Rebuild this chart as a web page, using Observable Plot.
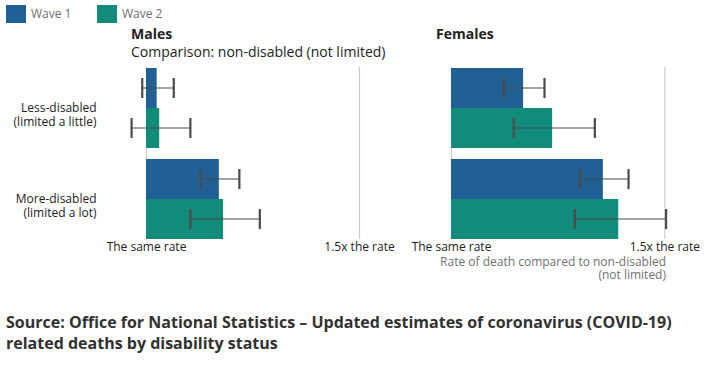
<!DOCTYPE html>
<html>
<head>
<meta charset="utf-8">
<script src="https://cdn.jsdelivr.net/npm/d3@7"></script>
<script src="https://cdn.jsdelivr.net/npm/@observablehq/plot@0.6"></script>
<style>
  html, body { margin: 0; padding: 0; background: #fff; }
  body { font-family: "Open Sans", sans-serif; }
  #wrap { position: relative; width: 716px; height: 365px; overflow: hidden; }
  .abs { position: absolute; white-space: nowrap; }
  .sw { position: absolute; width: 20px; height: 18px; }
  .leg { position: absolute; font-size: 12px; color: #707071; line-height: 18px; }
  .title { font-size: 14px; font-weight: 700; color: #222; line-height: normal; }
  .sub { font-size: 14px; color: #222; line-height: normal; }
  .axt { font-size: 12px; color: #707071; text-align: right; line-height: 13px; }
  .src { font-size: 16px; font-weight: 700; color: #323132; line-height: 21px; white-space: normal; width: 710px; }
</style>
</head>
<body>
<div id="wrap"></div>
<script>
// ---- data ----
const sexes = ["Males", "Females"];
const groups = ["Less-disabled\n(limited a little)", "More-disabled\n(limited a lot)"];
const waves = ["Wave 1", "Wave 2"];
const waveColors = ["#206095", "#118c7b"];
// order: Less W1, Less W2, More W1, More W2
const maleRate  = [1.025, 1.031, 1.171, 1.181];
const maleLower = [0.990, 0.965, 1.127, 1.103];
const maleUpper = [1.064, 1.103, 1.218, 1.266];
const femaleRate  = [1.169, 1.237, 1.356, 1.392];
const femaleLower = [1.123, 1.146, 1.302, 1.289];
const femaleUpper = [1.218, 1.336, 1.415, 1.503];
const tickValues = [1, 1.5];
const tickLabels = ["The same rate", "1.5x the rate"];
const subtitle = "Comparison: non-disabled (not limited)";
const axisTitle = "Rate of death compared to non-disabled\n(not limited)";
const source = "Source: Office for National Statistics – Updated estimates of coronavirus (COVID-19) related deaths by disability status";

const wrap = document.getElementById("wrap");

function rowsOf(rate, lo, hi) {
  return rate.map((r, i) => ({group: groups[Math.floor(i / 2)], wave: waves[i % 2], rate: r, lo: lo[i], hi: hi[i]}));
}

function panel(rows, opts) {
  const grid0 = tickValues.map(v => ({group: groups[0], v}));
  const grid1 = tickValues.map(v => ({group: groups[1], v}));
  const marks = [
    Plot.ruleX(grid0, {x: "v", fy: "group", stroke: "#cccccc", strokeWidth: 1.2, insetBottom: -10}),
    Plot.ruleX(grid1, {x: "v", fy: "group", stroke: "#cccccc", strokeWidth: 1.2}),
    Plot.barX(rows, {x1: 1, x2: "rate", y: "wave", fy: "group", fill: "wave"}),
    Plot.barX(rows, {x1: "lo", x2: "hi", y: "wave", fy: "group", fill: "#4a4a4a", insetTop: 19.5, insetBottom: 19.5}),
    Plot.tickX(rows, {x: "lo", y: "wave", fy: "group", stroke: "#4a4a4a", strokeWidth: 2.2, insetTop: 10, insetBottom: 10}),
    Plot.tickX(rows, {x: "hi", y: "wave", fy: "group", stroke: "#4a4a4a", strokeWidth: 2.2, insetTop: 10, insetBottom: 10}),
    Plot.axisX({ticks: tickValues, tickFormat: d => tickLabels[tickValues.indexOf(d)], tickSize: 0, tickPadding: 3, label: null, fill: "#222", fontSize: 12})
  ];
  if (opts.yLabels) {
    marks.push(Plot.axisFy({anchor: "left", tickSize: 0, tickPadding: 8, label: null, dy: 7, lineHeight: 14 / 12, fill: "#222", fontSize: 12}));
  }
  return Plot.plot({
    width: opts.width,
    height: 265,
    marginTop: 67,
    marginBottom: 25,
    marginLeft: opts.marginLeft,
    marginRight: 0,
    x: {domain: [1, 1.5], range: opts.range},
    y: {domain: waves, padding: 0, axis: null},
    fy: {domain: groups, paddingInner: 0.105, paddingOuter: 0, ...(opts.yLabels ? {} : {axis: null})},
    color: {domain: waves, range: waveColors},
    style: {fontFamily: "Open Sans", fontSize: "12px", color: "#222", background: "transparent", overflow: "visible"},
    marks
  });
}

const males = panel(rowsOf(maleRate, maleLower, maleUpper), {width: 405, marginLeft: 104, range: [146, 359], yLabels: true});
males.style.position = "absolute"; males.style.left = "0px"; males.style.top = "0px";
wrap.appendChild(males);

const females = panel(rowsOf(femaleRate, femaleLower, femaleUpper), {width: 311, marginLeft: 40, range: [46, 259.3], yLabels: false});
females.style.position = "absolute"; females.style.left = "405px"; females.style.top = "0px";
wrap.appendChild(females);

function add(cls, text, css) {
  const d = document.createElement("div");
  d.className = cls;
  d.textContent = text;
  Object.assign(d.style, css);
  wrap.appendChild(d);
  return d;
}

// legend
waves.forEach((w, i) => {
  add("sw", "", {left: (6 + i * 91) + "px", top: "5px", background: waveColors[i]});
  add("leg", w, {left: (31 + i * 91) + "px", top: "5px"});
});

// titles
add("abs title", sexes[0], {left: "131px", top: "24px"});
add("abs sub", subtitle, {left: "131px", top: "42px"});
add("abs title", sexes[1], {left: "436px", top: "24px"});

// axis title
const at = add("abs axt", "", {right: (716 - 666) + "px", top: "255px"});
at.innerHTML = axisTitle.split("\n").map(s => s.replace(/&/g, "&amp;").replace(/</g, "&lt;")).join("<br>");

// source
add("abs src", source, {left: "6px", top: "312px"});
</script>
</body>
</html>
